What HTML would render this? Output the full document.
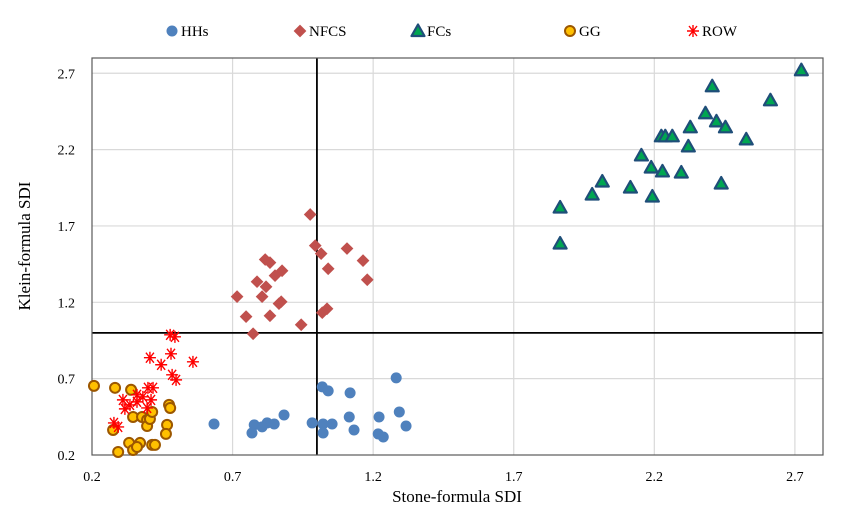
<!DOCTYPE html>
<html><head><meta charset="utf-8"><style>
body{margin:0;background:#fff;}
svg{display:block;font-family:"Liberation Serif",serif;}
</style></head><body>
<svg id="chart" width="845" height="522" xmlns="http://www.w3.org/2000/svg">
<g id="grid"></g>
<g id="ticks"></g>
<rect x="92" y="58" width="731" height="397" fill="none" stroke="#595959" stroke-width="1.2"/>
<g id="marks"></g>
<g id="legend"></g>
<text x="30" y="246" font-size="17" text-anchor="middle" transform="rotate(-90 30 246)">Klein-formula SDI</text>
<text x="457" y="502" font-size="17" text-anchor="middle">Stone-formula SDI</text>
</svg>
<script>
const tickVals=[0.2,0.7,1.2,1.7,2.2,2.7];
const tickLabels=["0.2","0.7","1.2","1.7","2.2","2.7"];
const refX=1.0, refY=1.0;
const hhX=[0.634,0.777,0.769,0.823,0.848,0.883,0.983,1.022,1.022,1.054,1.019,1.040,1.118,1.115,1.132,1.221,1.218,1.236,1.282,1.293,1.317,0.805];
const hhY=[0.403,0.397,0.344,0.41,0.403,0.462,0.41,0.403,0.344,0.403,0.646,0.62,0.607,0.449,0.364,0.449,0.338,0.318,0.705,0.482,0.39,0.384];
const nfX=[0.976,0.994,1.015,1.107,1.164,1.040,1.179,0.816,0.833,0.876,0.851,0.787,0.819,0.805,0.716,0.873,0.865,0.748,0.833,0.773,0.944,1.019,1.036];
const nfY=[1.775,1.571,1.519,1.552,1.473,1.420,1.348,1.480,1.460,1.407,1.375,1.335,1.302,1.237,1.237,1.204,1.191,1.106,1.112,0.994,1.053,1.132,1.158];
const fcX=[2.723,2.613,2.406,2.527,2.382,2.421,2.453,2.225,2.239,2.264,2.328,2.321,2.154,2.189,2.229,2.296,2.115,2.015,1.979,2.193,2.438,1.865,1.865];
const fcY=[2.720,2.523,2.615,2.267,2.438,2.385,2.346,2.287,2.287,2.287,2.346,2.221,2.162,2.083,2.057,2.050,1.952,1.991,1.906,1.893,1.978,1.821,1.585];
const ggX=[0.207,0.282,0.339,0.275,0.293,0.332,0.346,0.371,0.360,0.414,0.424,0.346,0.378,0.396,0.396,0.406,0.414,0.474,0.478,0.467,0.463];
const ggY=[0.653,0.640,0.627,0.364,0.220,0.279,0.233,0.279,0.252,0.266,0.266,0.449,0.449,0.430,0.390,0.436,0.482,0.528,0.508,0.397,0.338];
const rowX=[0.478,0.495,0.406,0.481,0.446,0.559,0.485,0.499,0.399,0.417,0.310,0.360,0.381,0.410,0.335,0.317,0.396,0.360,0.278,0.293];
const rowY=[0.987,0.974,0.837,0.863,0.791,0.810,0.725,0.692,0.640,0.640,0.561,0.594,0.581,0.561,0.528,0.502,0.508,0.548,0.410,0.384];

const NS="http://www.w3.org/2000/svg";
const X0=92,X1=823,Y0=455,Y1=58,VMIN=0.2,VMAX=2.8;
const sx=v=>X0+(v-VMIN)/(VMAX-VMIN)*(X1-X0);
const sy=v=>Y0-(v-VMIN)/(VMAX-VMIN)*(Y0-Y1);
function mk(tag,attrs,parent){const e=document.createElementNS(NS,tag);for(const k in attrs)e.setAttribute(k,attrs[k]);parent.appendChild(e);return e;}
const grid=document.getElementById('grid'),ticks=document.getElementById('ticks'),marks=document.getElementById('marks'),legend=document.getElementById('legend');
tickVals.forEach((v,i)=>{
  if(v>VMIN){
    let g=mk('line',{x1:sx(v),x2:sx(v),y1:Y1,y2:Y0,stroke:'#d9d9d9','stroke-width':1.2},grid);
    
    
    let h=mk('line',{x1:X0,x2:X1,y1:sy(v),y2:sy(v),stroke:'#d9d9d9','stroke-width':1.2},grid);
    
    
  }
  let tx=mk('text',{x:sx(v),y:481,'font-size':14,'text-anchor':'middle'},ticks);tx.textContent=tickLabels[i];
  
  
  let ty=mk('text',{x:75,y:sy(v)+5,'font-size':14,'text-anchor':'end'},ticks);ty.textContent=tickLabels[i];
  
  
});
let rv=mk('line',{x1:sx(refX),x2:sx(refX),y1:Y1,y2:Y0,stroke:'#000','stroke-width':1.8},grid);


let rh=mk('line',{x1:X0,x2:X1,y1:sy(refY),y2:sy(refY),stroke:'#000','stroke-width':1.8},grid);



function draw(kind,x,y,parent){
  let e;
  if(kind==='hh') e=mk('circle',{cx:x,cy:y,r:5.5,fill:'#4f81bd'},parent);
  else if(kind==='nf') e=mk('rect',{x:x-4.5,y:y-4.5,width:9,height:9,fill:'#c0504d',transform:`rotate(45 ${x} ${y})`},parent);
  else if(kind==='fc') e=mk('polygon',{points:`${x},${y-6.5} ${x+6.5},${y+5} ${x-6.5},${y+5}`,fill:'#00a651',stroke:'#1f4e79','stroke-width':2.2,'stroke-linejoin':'round'},parent);
  else if(kind==='gg') e=mk('circle',{cx:x,cy:y,r:5,fill:'#ffc000',stroke:'#9c5700','stroke-width':2},parent);
  else { e=mk('path',{d:`M${x-6},${y}H${x+6}M${x-4},${y-5}L${x+4},${y+5}M${x+4},${y-5}L${x-4},${y+5}M${x},${y-6}V${y+6}`,stroke:'#ff0000','stroke-width':1.4,fill:'none'},parent);}
  return e;
}
const series=[['hh',hhX,hhY,'hhs'],['nf',nfX,nfY,'nfcs'],['fc',fcX,fcY,'fcs'],['gg',ggX,ggY,'gg'],['row',rowX,rowY,'row']];
series.forEach(([k,xs,ys,n])=>{
  xs.forEach((v,i)=>{
    const e=draw(k,sx(v),sy(ys[i]),marks);
    
    
  });
});
const legItems=[['hh','HHs',172],['nf','NFCS',300],['fc','FCs',418],['gg','GG',570],['row','ROW',693]];
legItems.forEach(([k,label,x])=>{
  const m=draw(k,x,31,legend);
  
  
  const t=mk('text',{x:x+9,y:36,'font-size':15},legend);t.textContent=label;
  
  
});
</script>
</body></html>
